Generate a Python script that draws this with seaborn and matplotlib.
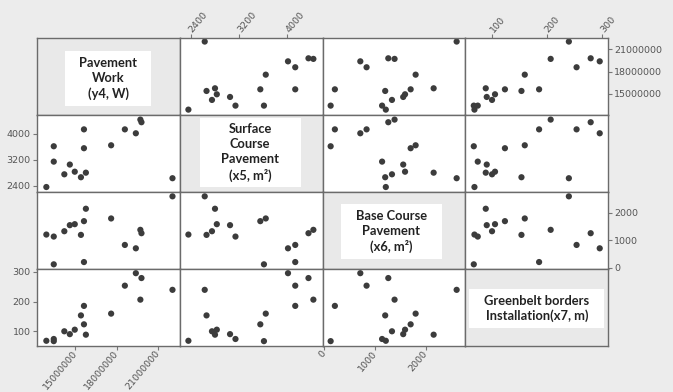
import numpy as np
import pandas as pd
import matplotlib.pyplot as plt
import seaborn as sns
from matplotlib.patches import Rectangle

# wartosci (16 obserwacji)
pavement_work = [13420000, 12880000, 13420000, 15760000, 14590000, 14190000, 14950000, 15620000,
                 15400000, 17600000, 15620000, 19730000, 22070000, 18600000, 19810000, 19400000]
surface_course = [3611, 2361, 3140, 2801, 3050, 2751, 2831, 3551,
                  2661, 3641, 4129, 4429, 2631, 4129, 4348, 4009]
base_course = [125, 1209, 1136, 2149, 1551, 1330, 1587, 1697,
               1197, 1795, 208, 1381, 2601, 831, 1258, 708]
greenbelt = [67.5, 68.7, 74.7, 89.2, 91, 100.6, 106, 124,
             154, 160, 186, 207, 240, 254, 279.6, 296]

cols = ['y4', 'x5', 'x6', 'x7']
names = ['Pavement\nWork\n(y4, W)',
         'Surface\nCourse\nPavement\n(x5, m²)',
         'Base Course\nPavement\n(x6, m²)',
         'Greenbelt borders\nInstallation(x7, m)']
ticks = [[15000000, 18000000, 21000000], [2400, 3200, 4000], [0, 1000, 2000], [100, 200, 300]]
limits = [(12.2e6, 22.6e6), (2218, 4580), (-35, 2770), (52, 311)]

# biale ramki pod nazwami (x0, x1, y0, y1 w ukladzie osi)
boxes = [(0.196, 0.80, 0.116, 0.832), (0.14, 0.846, 0.057, 0.96),
         (0.128, 0.837, 0.12, 0.84), (0.028, 0.974, 0.228, 0.738)]

df = pd.DataFrame({'y4': pavement_work, 'x5': surface_course,
                   'x6': base_course, 'x7': greenbelt})

sns.set_theme(style='white')
plt.rcParams['font.family'] = ['DejaVu Sans']

g = sns.PairGrid(df, vars=cols, height=1, aspect=1.8, despine=False)
g.map_offdiag(sns.scatterplot, color='#3c3c3c', s=20, edgecolor='none')
g.figure.set_size_inches(6.73, 3.92)
g.figure.set_facecolor('#ececec')
g.figure.subplots_adjust(left=0.055, right=0.9034, top=0.904, bottom=0.118, wspace=0, hspace=0)

for i in range(4):
    for j in range(4):
        ax = g.axes[i, j]
        ax.set_xlabel('')
        ax.set_ylabel('')
        ax.tick_params(which='both', bottom=False, top=False, left=False, right=False,
                       labelbottom=False, labeltop=False, labelleft=False, labelright=False,
                       length=3, width=0.8, color='#777777', labelcolor='#555555',
                       labelsize=6.8, pad=1.5)
        for sp in ax.spines.values():
            sp.set_color('#6b6b6b')
            sp.set_linewidth(1.0)

for k in range(4):
    g.axes[0, k].set_xlim(limits[k])
    g.axes[k, 0].set_ylim(limits[k])
    g.axes[0, k].set_xticks(ticks[k], [str(t) for t in ticks[k]])
    g.axes[k, 0].set_yticks(ticks[k], [str(t) for t in ticks[k]])

# osie na przemian: dol/gora, lewo/prawo
for k in range(4):
    if k % 2 == 0:
        ax = g.axes[3, k]
        ax.tick_params(axis='x', bottom=True, labelbottom=True)
        for lab in ax.get_xticklabels():
            lab.set_rotation(50)
            lab.set_ha('right')
            lab.set_va('center')
            lab.set_rotation_mode('anchor')
        ax = g.axes[k, 3]
        ax.tick_params(axis='y', right=True, labelright=True)
    else:
        ax = g.axes[0, k]
        ax.tick_params(axis='x', top=True, labeltop=True)
        for lab in ax.get_xticklabels():
            lab.set_rotation(50)
            lab.set_ha('left')
            lab.set_va('center')
            lab.set_rotation_mode('anchor')
        ax = g.axes[k, 0]
        ax.tick_params(axis='y', left=True, labelleft=True)

# przekatna z nazwami zmiennych
for k in range(4):
    ax = g.axes[k, k]
    ax.set_facecolor('#e9e9e9')
    x0, x1, y0, y1 = boxes[k]
    ax.add_patch(Rectangle((x0, y0), x1 - x0, y1 - y0, transform=ax.transAxes,
                           facecolor='white', edgecolor='none', zorder=1))
    ax.text((x0 + x1) / 2, (y0 + y1) / 2, names[k], transform=ax.transAxes,
            ha='center', va='center', fontsize=9.3, fontweight='bold', color='#222222',
            family=['Lato', 'DejaVu Sans'], linespacing=1.3, zorder=2)

g.figure.savefig('out.png', dpi=100, facecolor='#ececec')
